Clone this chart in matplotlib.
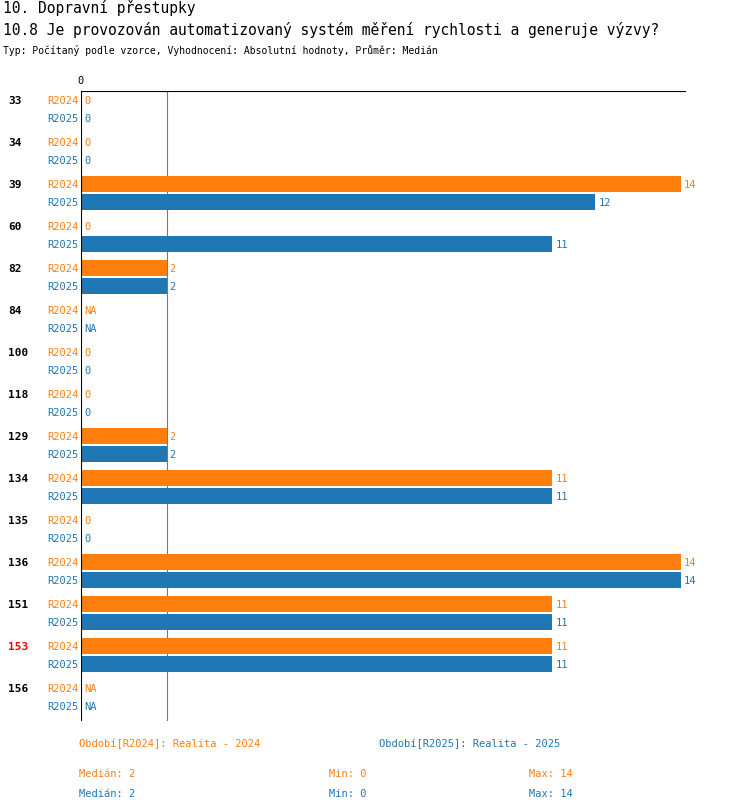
import matplotlib
matplotlib.use("Agg")
import matplotlib.pyplot as plt
import numpy as np

groups = ["33", "34", "39", "60", "82", "84", "100", "118", "129", "134", "135", "136", "151", "153", "156"]
v2024 = [0, 0, 14, 0, 2, None, 0, 0, 2, 11, 0, 14, 11, 11, None]
v2025 = [0, 0, 12, 11, 2, None, 0, 0, 2, 11, 0, 14, 11, 11, None]
highlight = "153"
median = 2

ORANGE = "#ff7f0e"
BLUE = "#1f77b4"
W, H = 750, 812
plt.rcParams['font.family'] = ['DejaVu Sans Mono']

fig = plt.figure(figsize=(W / 100, H / 100), dpi=100)

def px(x, y):
    return x / W, 1 - y / H

# axes covers x 81..686, y 92..722 pixels
x0, x1, y0, y1 = 81, 686, 92, 722
ax = fig.add_axes([x0 / W, 1 - y1 / H, (x1 - x0) / W, (y1 - y0) / H])
unit = 600 / 14.0
ax.set_xlim(0, (x1 - x0) / unit)
ax.set_ylim(y1 - y0 - 9, -9)
ax.axis("off")
ax.plot([0, 0], [-9, y1 - y0 - 9], color="black", lw=0.8)
ax.plot([0, (x1 - x0) / unit], [-9, -9], color="black", lw=0.8)
ax.axvline(median, color="#777777", lw=0.8, zorder=0)

fs = 7.5
for i, g in enumerate(groups):
    for j, (vals, col, lab) in enumerate([(v2024, ORANGE, "R2024"), (v2025, BLUE, "R2025")]):
        yc = i * 42 + j * 18
        v = vals[i]
        if v is not None and v > 0:
            ax.barh(yc, v, height=16, color=col)
        ax.text((v or 0) + 3 / unit, yc, "NA" if v is None else str(v),
                color=col, fontsize=fs, va="center", ha="left")
        fig.text(*px(78, y0 + 9 + yc), lab, color=col, fontsize=fs, va="center", ha="right")
    fig.text(*px(8, y0 + 9 + i * 42), g, fontsize=8, weight="bold", va="center",
             color="red" if g == highlight else "black")

fig.text(*px(81, 81), "0", fontsize=fs, ha="center", va="center")
fig.text(*px(3, 8), "10. Dopravní přestupky", fontsize=10.5, va="center")
fig.text(*px(3, 30), "10.8 Je provozován automatizovaný systém měření rychlosti a generuje výzvy?",
         fontsize=10.5, va="center")
fig.text(*px(3, 50), "Typ: Počítaný podle vzorce, Vyhodnocení: Absolutní hodnoty, Průměr: Medián",
         fontsize=7, va="center")

fig.text(*px(79, 744), "Období[R2024]: Realita - 2024", color=ORANGE, fontsize=fs, va="center")
fig.text(*px(379, 744), "Období[R2025]: Realita - 2025", color=BLUE, fontsize=fs, va="center")
for y, col, vals in [(774, ORANGE, v2024), (794, BLUE, v2025)]:
    nums = [v for v in vals if v is not None]
    fig.text(*px(79, y), f"Medián: {int(np.median(nums))}", color=col, fontsize=fs, va="center")
    fig.text(*px(329, y), f"Min: {min(nums)}", color=col, fontsize=fs, va="center")
    fig.text(*px(529, y), f"Max: {max(nums)}", color=col, fontsize=fs, va="center")

fig.savefig("out.png", dpi=100)
